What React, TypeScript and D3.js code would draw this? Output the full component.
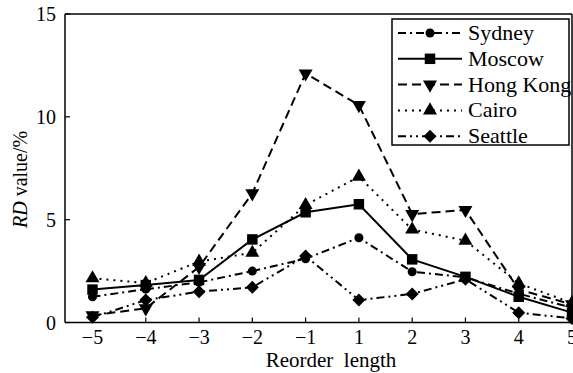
import React from "react";
import * as d3 from "d3";

const categories = [-5, -4, -3, -2, -1, 1, 2, 3, 4, 5];
const seriesNames = ["Sydney", "Moscow", "Hong Kong", "Cairo", "Seattle"];
const sydney = [1.25, 1.62, 1.95, 2.5, 3.1, 4.12, 2.47, 2.2, 1.4, 0.72];
const moscow = [1.6, 1.82, 2.07, 4.04, 5.36, 5.75, 3.07, 2.22, 1.25, 0.48];
const hongKong = [0.35, 0.69, 2.7, 6.28, 12.11, 10.57, 5.27, 5.47, 1.6, 0.88];
const cairo = [2.15, 1.92, 2.96, 3.39, 5.71, 7.09, 4.52, 3.98, 1.9, 0.95];
const seattle = [0.25, 1.09, 1.5, 1.71, 3.23, 1.09, 1.39, 2.1, 0.48, 0.2];
const yTicks = [0, 5, 10, 15];

const W = 573;
const H = 373;
const left = 65;
const right = 572;
const top = 14;
const bottom = 322.5;

const styles = [
  { dash: "8,4,2,4", marker: "circle" },
  { dash: "", marker: "square" },
  { dash: "9,5", marker: "down" },
  { dash: "2,5", marker: "up" },
  { dash: "8,4,2,4,2,4", marker: "diamond" },
];

function markerPath(kind: string): string {
  if (kind === "circle") return d3.symbol(d3.symbolCircle, 64)() as string;
  if (kind === "square") return d3.symbol(d3.symbolSquare, 110)() as string;
  if (kind === "up" || kind === "down") return d3.symbol(d3.symbolTriangle, 85)() as string;
  const r = 6.5;
  return `M0,${-r}L${r},0L0,${r}L${-r},0Z`;
}

const font = "Liberation Serif, Times New Roman, Times, Tinos, DejaVu Serif, serif";

export default function App() {
  const allSeries = [sydney, moscow, hongKong, cairo, seattle];
  const x = d3.scalePoint<number>().domain(categories).range([92.5, 572]);
  const y = d3.scaleLinear().domain([0, 15]).range([bottom, top]);
  const line = d3
    .line<number>()
    .x((_, i) => x(categories[i]) as number)
    .y((d) => y(d));
  const legendX = 392;
  const legendY = 19;
  return (
    <div style={{ position: "absolute", left: 0, top: 0 }}>
      <svg width={W} height={H} style={{ display: "block", background: "#fff", fontFamily: font }}>
        <rect x={0} y={0} width={W} height={H} fill="#fff" />
        <line x1={left} y1={top} x2={right} y2={top} stroke="#000" strokeWidth={1.5} />
        <line x1={right} y1={top} x2={right} y2={bottom} stroke="#000" strokeWidth={1.5} />
        <line x1={left} y1={top} x2={left} y2={bottom} stroke="#000" strokeWidth={1.5} />
        <line x1={left} y1={bottom} x2={right} y2={bottom} stroke="#000" strokeWidth={1.5} />
        {yTicks.map((t) => (
          <g key={t}>
            <line x1={left} x2={left + 5} y1={y(t)} y2={y(t)} stroke="#000" strokeWidth={1.2} />
            <text x={left - 9} y={y(t) + 7} textAnchor="end" style={{ fontFamily: font }} fontSize={20}>
              {t}
            </text>
          </g>
        ))}
        {categories.map((c) => (
          <g key={c}>
            <line x1={x(c)} x2={x(c)} y1={bottom} y2={bottom - 5} stroke="#000" strokeWidth={1.2} />
            <text x={x(c)} y={bottom + 21} textAnchor="middle" style={{ fontFamily: font }} fontSize={20}>
              {c < 0 ? "\u2212" + Math.abs(c) : String(c)}
            </text>
          </g>
        ))}
        <text x={331} y={367} textAnchor="middle" style={{ fontFamily: font, whiteSpace: "pre" }} fontSize={21}>
          {"Reorder  length"}
        </text>
        <text
          transform={`translate(27,228) rotate(-90)`}
          textAnchor="start"
          style={{ fontFamily: font }}
          fontSize={20}
        >
          <tspan fontStyle="italic">RD</tspan>
          <tspan> value/%</tspan>
        </text>
        {allSeries.map((s, i) => (
          <g key={seriesNames[i]}>
            <path
              d={line(s) as string}
              fill="none"
              stroke="#000"
              strokeWidth={2}
              strokeDasharray={styles[i].dash || undefined}
            />
            {s.map((v, j) => (
              <path
                key={j}
                d={markerPath(styles[i].marker)}
                transform={`translate(${x(categories[j])},${y(v)})${styles[i].marker === "down" ? " rotate(180)" : ""}`}
                fill="#000"
              />
            ))}
          </g>
        ))}
        <rect x={legendX} y={legendY} width={177} height={126} fill="#fff" stroke="#000" strokeWidth={1.5} />
        {seriesNames.map((name, i) => {
          const ly = 33 + i * 25.8;
          return (
            <g key={name}>
              <line
                x1={398}
                x2={462}
                y1={ly}
                y2={ly}
                stroke="#000"
                strokeWidth={2}
                strokeDasharray={styles[i].dash || undefined}
              />
              <path
                d={markerPath(styles[i].marker)}
                transform={`translate(430,${ly})${styles[i].marker === "down" ? " rotate(180)" : ""}`}
                fill="#000"
              />
              <text x={468} y={ly + 7} style={{ fontFamily: font }} fontSize={22}>
                {name}
              </text>
            </g>
          );
        })}
      </svg>
    </div>
  );
}
